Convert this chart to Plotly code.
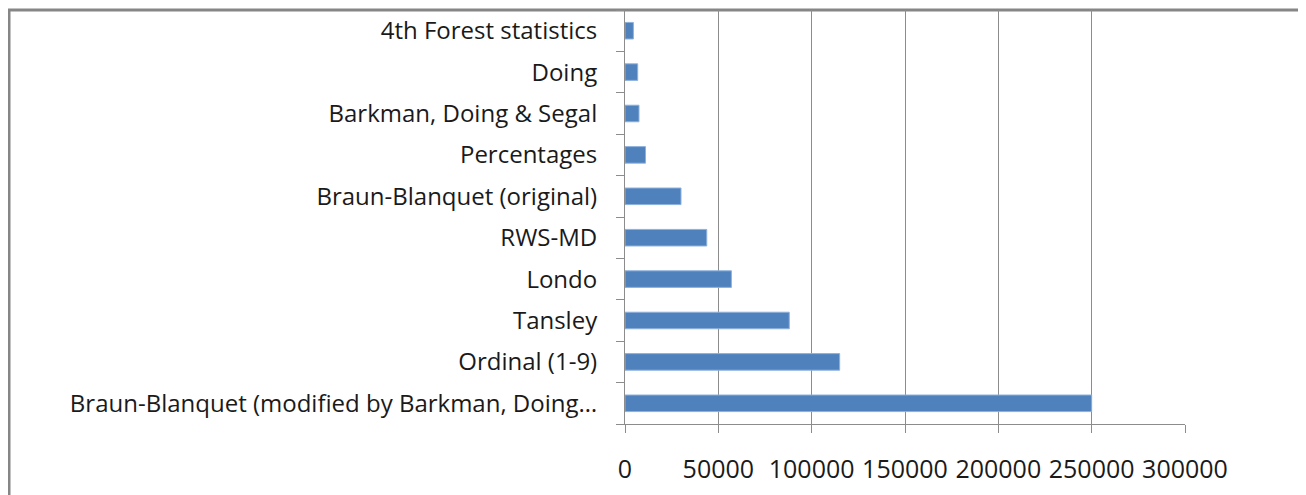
import plotly.graph_objects as go

categories = [
    "Braun-Blanquet (modified by Barkman, Doing…",
    "Ordinal (1-9)",
    "Tansley",
    "Londo",
    "RWS-MD",
    "Braun-Blanquet (original)",
    "Percentages",
    "Barkman, Doing & Segal",
    "Doing",
    "4th Forest statistics",
]
values = [250000, 115000, 88000, 57000, 43800, 30000, 11000, 7500, 6800, 4500]
x_ticks = [0, 50000, 100000, 150000, 200000, 250000, 300000]

# page has an 8px body margin; figure coordinates are page coordinates - 8
OFF = 8
W, H = 1306 - OFF, 495 - OFF
ML, MT = 625 - OFF, 10 - OFF
MR = W - (1185 - OFF)
MB = H - (424 - OFF)
pw, ph = W - ML - MR, H - MT - MB

def px_to_paper_x(px):
    return (px - OFF - ML) / pw

def px_to_paper_y(py):
    return (H - MB - (py - OFF)) / ph

fig = go.Figure(go.Bar(
    x=values, y=categories, orientation="h",
    marker=dict(color="#4F81BD", line=dict(color="#8EB1DC", width=1)),
))

fig.update_layout(
    width=W, height=H,
    margin=dict(l=ML, r=MR, t=MT, b=MB, pad=0),
    paper_bgcolor="white", plot_bgcolor="white",
    bargap=0.6, showlegend=False,
    font=dict(family="Open Sans", size=24, color="#1a1a1a"),
    shapes=[dict(
        type="rect", xref="paper", yref="paper",
        x0=px_to_paper_x(9), x1=px_to_paper_x(1304),
        y0=px_to_paper_y(10), y1=px_to_paper_y(520),
        line=dict(color="#868686", width=3), layer="below",
    )],
)
fig.update_xaxes(
    range=[0, 300000], tickvals=x_ticks, ticktext=[str(v) for v in x_ticks],
    showgrid=True, gridcolor="#8c8c8c", gridwidth=1,
    showline=True, linecolor="#8c8c8c", linewidth=1,
    ticks="outside", ticklen=8, tickcolor="#8c8c8c",
    tickfont=dict(size=25),
    ticklabelstandoff=15, zeroline=False, fixedrange=True,
)
fig.update_yaxes(
    type="category", categoryorder="array", categoryarray=categories,
    showline=True, linecolor="#8c8c8c", linewidth=1,
    ticks="outside", ticklen=8, tickcolor="#8c8c8c", tickson="boundaries",
    ticklabelstandoff=22, showgrid=False, fixedrange=True,
)

fig.write_html("out.html")
